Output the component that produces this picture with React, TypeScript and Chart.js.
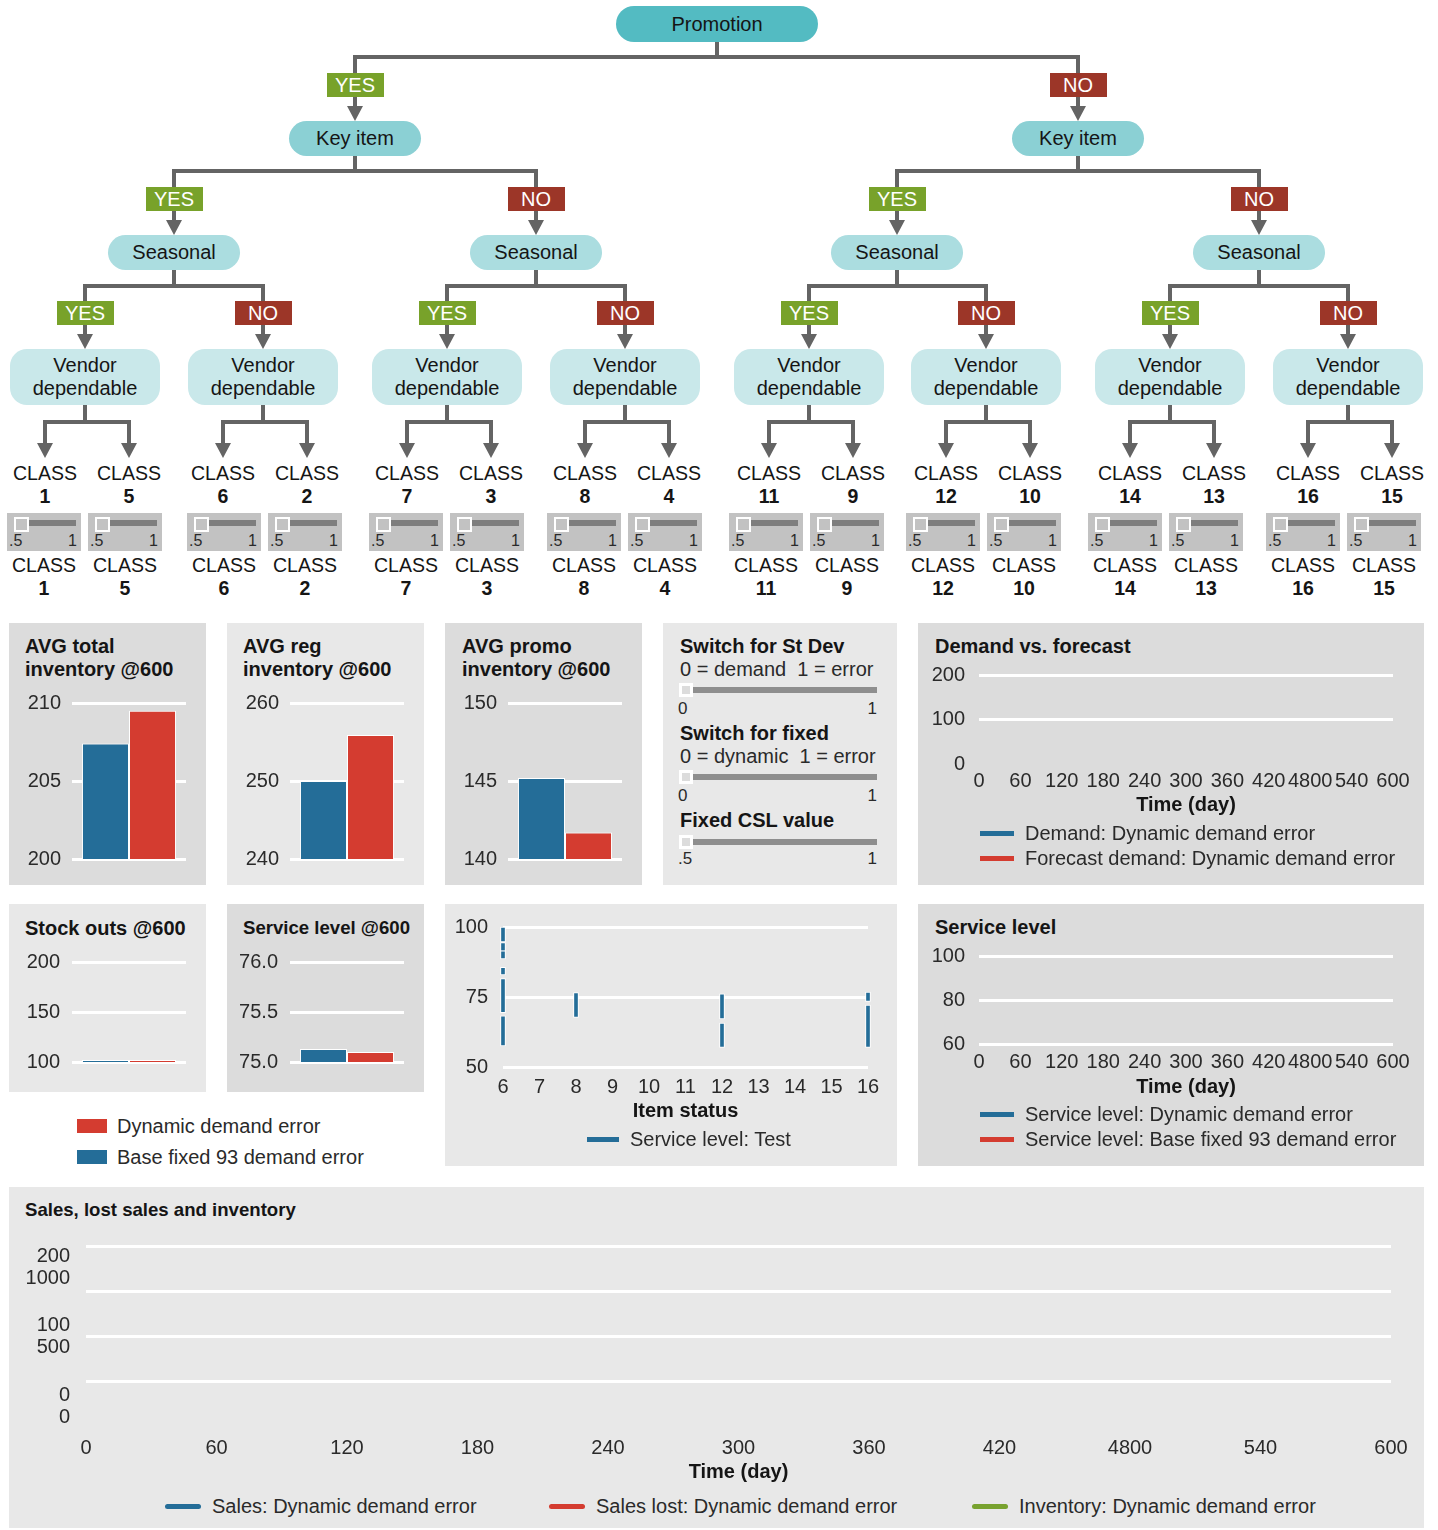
import React, { useEffect, useRef } from 'react';
import { Chart, registerables } from 'chart.js';

Chart.register(...registerables);

const SANS = '"Liberation Sans", Arial, Helvetica, sans-serif';
Chart.defaults.font.family = SANS;
Chart.defaults.font.size = 20;
Chart.defaults.color = '#2a2a2a';

const BLUE = '#246d98';
const RED = '#d43c30';
const GREEN = '#78a22f';
const INK = '#151515';
const SOFT_INK = '#2a2a2a';
const PANEL_DARK = '#dcdcdc';
const PANEL_LIGHT = '#e8e8e8';
const CONNECTOR = '#646464';

/* ---------- decision tree ---------- */
const promotionNode = ['Promotion'];
const keyItemNodes = ['Key item', 'Key item'];
const seasonalNodes = ['Seasonal', 'Seasonal', 'Seasonal', 'Seasonal'];
const vendorNodes = [
  'Vendor\ndependable', 'Vendor\ndependable', 'Vendor\ndependable', 'Vendor\ndependable',
  'Vendor\ndependable', 'Vendor\ndependable', 'Vendor\ndependable', 'Vendor\ndependable',
];
const branchTags = ['YES', 'NO'];
const leafClasses = [1, 5, 6, 2, 7, 3, 8, 4, 11, 9, 12, 10, 14, 13, 16, 15];
const classSliderValues = [0.5, 0.5, 0.5, 0.5, 0.5, 0.5, 0.5, 0.5, 0.5, 0.5, 0.5, 0.5, 0.5, 0.5, 0.5, 0.5];
const classSliderRange = [0.5, 1];

/* ---------- summary bars ---------- */
const barSeries = ['Base fixed 93 demand error', 'Dynamic demand error'];
const barSeriesColors = [BLUE, RED];
const avgTotalInventory = [207.4, 209.5];
const avgRegInventory = [250.0, 255.9];
const avgPromoInventory = [145.2, 141.7];
const stockOuts = [102, 102];
const serviceLevelAt600 = [75.13, 75.1];
const avgTotalTicks = [200, 205, 210];
const avgRegTicks = [240, 250, 260];
const avgPromoTicks = [140, 145, 150];
const stockOutTicks = [100, 150, 200];
const serviceLevelAt600Ticks = [75.0, 75.5, 76.0];

/* ---------- switches ---------- */
const stDevSwitch = { value: 0, range: ['0', '1'] };
const fixedSwitch = { value: 0, range: ['0', '1'] };
const fixedCslValue = { value: 0.5, range: ['.5', '1'] };

/* ---------- time series ---------- */
const timeTicks = [0, 60, 120, 180, 240, 300, 360, 420, 480, 540, 600];
const timeTickLabels = ['0', '60', '120', '180', '240', '300', '360', '420', '4800', '540', '600'];
const demandTicks = [0, 100, 200];
const demandSeries = ['Demand: Dynamic demand error', 'Forecast demand: Dynamic demand error'];
const demandValues: number[][] = [[], []];
const serviceLevelTicks = [60, 80, 100];
const serviceLevelSeries = ['Service level: Dynamic demand error', 'Service level: Base fixed 93 demand error'];
const serviceLevelValues: number[][] = [[], []];
const salesTicks = [0, 100, 200];
const inventoryTicks = [0, 500, 1000];
const salesGridTicks = [0, 1, 2, 3, 4];
const salesSeries = ['Sales: Dynamic demand error', 'Sales lost: Dynamic demand error', 'Inventory: Dynamic demand error'];
const salesColors = [BLUE, RED, GREEN];
const salesValues: number[][] = [[], [], []];

/* ---------- item status ---------- */
const itemStatusTicks = [6, 7, 8, 9, 10, 11, 12, 13, 14, 15, 16];
const itemStatusYTicks = [50, 75, 100];
const serviceLevelTestName = 'Service level: Test';
// [item status, low, high]
const serviceLevelTestRanges: [number, number, number][] = [
  [6, 94.7, 100], [6, 91.4, 94.4], [6, 88.6, 91.5], [6, 82.9, 85.6], [6, 69.4, 81.6], [6, 57.5, 68.3],
  [8, 67.7, 76.6],
  [12, 67.2, 76.1], [12, 57.0, 65.7],
  [16, 73.4, 76.8], [16, 57.0, 72.1],
];

/* ---------- layout ---------- */
const treeRows = [
  { names: promotionNode, centers: [717], top: 6, w: 202, h: 36, r: 18, bg: '#53bbc2' },
  { names: keyItemNodes, centers: [355, 1078], top: 121, w: 132, h: 35, r: 18, bg: '#8bd0d4' },
  { names: seasonalNodes, centers: [174, 536, 897, 1259], top: 235, w: 132, h: 35, r: 18, bg: '#abdde0' },
  { names: vendorNodes, centers: [85, 263, 447, 625, 809, 986, 1170, 1348], top: 349, w: 150, h: 56, r: 17, bg: '#c9e8ea' },
];
const connectorRows = [
  { barY: 57, base: 106, tagY: 85 },
  { barY: 171, base: 220, tagY: 199 },
  { barY: 286, base: 334, tagY: 313 },
  { barY: 422, base: 443, tagY: 0 },
];
const leafTip = 458;
const sliderLefts = [7, 88, 187, 268, 369, 450, 547, 628, 729, 810, 906, 987, 1088, 1169, 1266, 1347];

// canvas-relative plot box; xh is the height reserved for the x axis under the plot
type Geo = { w: number; h: number; left: number; right: number; top: number; bottom: number; xh: number };

function Label(props: {
  x: number; y: number; text: string; size?: number; bold?: boolean; color?: string;
  align?: 'left' | 'center' | 'right';
}) {
  const { x, y, text, size = 20, bold = false, color = INK, align = 'left' } = props;
  const lh = Math.round(size * 1.2);
  const shift = align === 'center' ? '-50%' : align === 'right' ? '-100%' : '0';
  return (
    <div
      style={{
        position: 'absolute', left: x, top: y - lh / 2, height: lh, lineHeight: `${lh}px`,
        fontSize: size, fontFamily: SANS, fontWeight: bold ? 700 : 400, color,
        whiteSpace: 'pre', transform: `translateX(${shift})`,
      }}
    >
      {text}
    </div>
  );
}

function ChartBox(props: { left: number; top: number; geo: Geo; build: (geo: Geo) => any }) {
  const ref = useRef<HTMLCanvasElement | null>(null);
  const { left, top, geo, build } = props;
  useEffect(() => {
    if (!ref.current) return undefined;
    const chart = new Chart(ref.current, build(geo));
    return () => chart.destroy();
  }, []);
  return (
    <canvas
      ref={ref}
      width={geo.w}
      height={geo.h}
      style={{ position: 'absolute', left, top, width: geo.w, height: geo.h }}
    />
  );
}

function Panel(props: { x: number; y: number; w: number; h: number; bg: string }) {
  return (
    <div style={{ position: 'absolute', left: props.x, top: props.y, width: props.w, height: props.h, background: props.bg }} />
  );
}

const baseOptions = (geo: Geo) => ({
  animation: false,
  responsive: false,
  devicePixelRatio: 1,
  events: [],
  layout: { padding: { left: 0, top: geo.top, right: geo.w - geo.right, bottom: geo.h - geo.bottom - geo.xh } },
  plugins: { legend: { display: false }, tooltip: { enabled: false } },
});

function valueAxis(ticks: number[], width: number, pad: number, digits = 0, hideFirstLine = false) {
  return {
    min: ticks[0],
    max: ticks[ticks.length - 1],
    afterBuildTicks: (s: any) => { s.ticks = ticks.map((value) => ({ value })); },
    afterFit: (s: any) => { s.width = width; },
    border: { display: false },
    grid: {
      drawTicks: false,
      lineWidth: 3,
      color: (ctx: any) => (hideFirstLine && ctx.tick && ctx.tick.value === ticks[0] ? 'rgba(0,0,0,0)' : '#ffffff'),
    },
    ticks: { padding: pad, color: SOFT_INK, callback: (v: any) => Number(v).toFixed(digits) },
  };
}

function barPanelConfig(values: number[], ticks: number[], digits: number, geo: Geo, pad: number) {
  return {
    type: 'bar',
    data: {
      labels: [''],
      datasets: barSeries.map((name, i) => ({
        label: name,
        data: [values[i]],
        backgroundColor: barSeriesColors[i],
        borderColor: '#ffffff',
        borderWidth: 1,
        categoryPercentage: 0.825,
        barPercentage: 1,
      })),
    },
    options: {
      ...baseOptions(geo),
      scales: {
        x: { display: false },
        y: valueAxis(ticks, geo.left, pad, digits),
      },
    },
  };
}

function timeAxis(height: number, pad: number) {
  return {
    type: 'linear',
    min: timeTicks[0],
    max: timeTicks[timeTicks.length - 1],
    afterBuildTicks: (s: any) => { s.ticks = timeTicks.map((value) => ({ value })); },
    afterFit: (s: any) => { s.height = height; },
    grid: { display: false, drawTicks: false },
    border: { display: false },
    ticks: {
      padding: pad, autoSkip: false, maxRotation: 0, minRotation: 0, color: SOFT_INK,
      callback: (_v: any, i: number) => timeTickLabels[i],
    },
    title: { display: true, text: 'Time (day)', color: INK, font: { size: 20, weight: 'bold' }, padding: { top: 0, bottom: 4 } },
  };
}

function timePanelConfig(names: string[], colors: string[], values: number[][], yTicks: number[], geo: Geo,
  yPad: number, xPad: number, hideFirstLine: boolean) {
  return {
    type: 'line',
    data: {
      datasets: names.map((name, i) => ({
        label: name,
        data: values[i],
        borderColor: colors[i],
        backgroundColor: colors[i],
        borderWidth: 2,
        pointRadius: 0,
      })),
    },
    options: {
      ...baseOptions(geo),
      scales: {
        x: timeAxis(geo.xh, xPad),
        y: valueAxis(yTicks, geo.left, yPad, 0, hideFirstLine),
      },
    },
  };
}

function itemStatusConfig(geo: Geo) {
  return {
    type: 'bar',
    data: {
      datasets: [{
        label: serviceLevelTestName,
        data: serviceLevelTestRanges.map(([x, lo, hi]) => ({ x, y: [lo, hi] })),
        backgroundColor: BLUE,
        borderColor: '#ffffff',
        borderWidth: 1,
        borderSkipped: false,
        barThickness: 5,
        clip: false,
      }],
    },
    options: {
      ...baseOptions(geo),
      scales: {
        x: {
          type: 'linear',
          offset: false,
          min: itemStatusTicks[0],
          max: itemStatusTicks[itemStatusTicks.length - 1],
          afterBuildTicks: (s: any) => { s.ticks = itemStatusTicks.map((value) => ({ value })); },
          afterFit: (s: any) => { s.height = geo.xh; },
          grid: { display: false, offset: false, drawTicks: false },
          border: { display: false },
          ticks: { padding: 8, autoSkip: false, maxRotation: 0, color: SOFT_INK },
          title: { display: true, text: 'Item status', color: INK, font: { size: 20, weight: 'bold' }, padding: { top: 0, bottom: 4 } },
        },
        y: valueAxis(itemStatusYTicks, geo.left, 15),
      },
    },
  };
}

function salesConfig(geo: Geo) {
  // sales (0-200) and inventory (0-1000) share one pixel mapping: their zero sits 21px above
  // the plot floor and the top tick 139px above that
  const plotH = geo.bottom - geo.top;
  const perUnit = 139 / salesTicks[salesTicks.length - 1];
  const salesMin = -21 / perUnit;
  const salesMax = salesMin + plotH / perUnit;
  const ratio = inventoryTicks[inventoryTicks.length - 1] / salesTicks[salesTicks.length - 1];
  return {
    type: 'line',
    data: {
      datasets: salesSeries.map((name, i) => ({
        label: name,
        data: salesValues[i],
        borderColor: salesColors[i],
        backgroundColor: salesColors[i],
        borderWidth: 2,
        pointRadius: 0,
        yAxisID: i === 2 ? 'yInventory' : 'ySales',
      })),
    },
    options: {
      ...baseOptions(geo),
      scales: {
        x: timeAxis(geo.xh, 9),
        ySales: {
          position: 'left',
          weight: 1,
          min: salesMin,
          max: salesMax,
          afterBuildTicks: (s: any) => { s.ticks = salesTicks.map((value) => ({ value })); },
          afterFit: (s: any) => { s.width = geo.left; },
          grid: { display: false, drawTicks: false },
          border: { display: false },
          ticks: {
            padding: 16,
            color: SOFT_INK,
            font: { size: 20, lineHeight: 1.1 },
            callback: (_v: any, i: number) => [String(salesTicks[i]), String(inventoryTicks[i])],
          },
        },
        yInventory: {
          position: 'left',
          display: false,
          min: salesMin * ratio,
          max: salesMax * ratio,
        },
        yGrid: {
          position: 'left',
          weight: 0,
          min: salesGridTicks[0],
          max: salesGridTicks[salesGridTicks.length - 1],
          afterBuildTicks: (s: any) => { s.ticks = salesGridTicks.map((value) => ({ value })); },
          afterFit: (s: any) => { s.width = 0; },
          border: { display: false },
          ticks: { display: false },
          grid: {
            drawTicks: false,
            lineWidth: 3,
            color: (ctx: any) => (ctx.tick && ctx.tick.value === 0 ? 'rgba(0,0,0,0)' : '#ffffff'),
          },
        },
      },
    },
  };
}

function DecisionTree() {
  const stems: string[] = [];
  const heads: string[] = [];
  const tags: any[] = [];
  const leafCenters = treeRows[3].centers.flatMap((c) => [c - 40, c + 44]);
  connectorRows.forEach((con, k) => {
    const parent = treeRows[k];
    const childCenters = k + 1 < treeRows.length ? treeRows[k + 1].centers : leafCenters;
    const tip = k + 1 < treeRows.length ? treeRows[k + 1].top : leafTip;
    const parentBottom = parent.top + parent.h;
    parent.centers.forEach((px, i) => {
      const lx = childCenters[2 * i];
      const rx = childCenters[2 * i + 1];
      stems.push(`M${px} ${parentBottom}V${con.barY}`);
      stems.push(`M${lx} ${con.base}V${con.barY}H${rx}V${con.base}`);
      [lx, rx].forEach((cx, j) => {
        heads.push(`${cx - 8},${con.base} ${cx + 8},${con.base} ${cx},${tip}`);
        if (con.tagY) {
          tags.push(
            <div
              key={`t${k}-${i}-${j}`}
              style={{
                position: 'absolute', left: cx - 28.5, top: con.tagY - 12, width: 57, height: 24,
                background: j === 0 ? '#78a22a' : '#9c3628', color: '#ffffff', fontFamily: SANS,
                fontSize: 20, lineHeight: '24px', textAlign: 'center',
              }}
            >
              {branchTags[j]}
            </div>,
          );
        }
      });
    });
  });

  return (
    <>
      <svg width={1438} height={470} style={{ position: 'absolute', left: 0, top: 0 }}>
        {stems.map((d, i) => (
          <path key={i} d={d} fill="none" stroke={CONNECTOR} strokeWidth={4} strokeLinejoin="miter" />
        ))}
        {heads.map((p, i) => (
          <polygon key={i} points={p} fill={CONNECTOR} />
        ))}
      </svg>
      {treeRows.map((row, k) =>
        row.centers.map((cx, i) => (
          <div
            key={`n${k}-${i}`}
            style={{
              position: 'absolute', left: cx - row.w / 2, top: row.top, width: row.w, height: row.h,
              borderRadius: row.r, background: row.bg, display: 'flex', flexDirection: 'column',
              alignItems: 'center', justifyContent: 'center', fontFamily: SANS, fontSize: 20,
              lineHeight: '23px', color: INK,
            }}
          >
            {row.names[i].split('\n').map((line) => <div key={line}>{line}</div>)}
          </div>
        )),
      )}
      {tags}
      {leafCenters.map((cx, i) => (
        <React.Fragment key={`c${i}`}>
          <Label x={cx} y={473} text="CLASS" size={19.5} align="center" />
          <Label x={cx} y={496} text={String(leafClasses[i])} size={19.5} bold align="center" />
        </React.Fragment>
      ))}
      {sliderLefts.map((x, i) => {
        const span = classSliderRange[1] - classSliderRange[0];
        const handle = 7 + ((classSliderValues[i] - classSliderRange[0]) / span) * 48;
        return (
          <React.Fragment key={`s${i}`}>
            <div style={{ position: 'absolute', left: x, top: 513, width: 74, height: 38, background: '#c2c2c2' }}>
              <div style={{ position: 'absolute', left: 21, top: 7, width: 48, height: 6, background: '#7e7e7e' }} />
              <div
                style={{
                  position: 'absolute', left: handle, top: 4, width: 15, height: 15, boxSizing: 'border-box',
                  border: '2px solid #ffffff', background: '#c2c2c2',
                }}
              />
              <Label x={2} y={27} text=".5" size={16} color={SOFT_INK} />
              <Label x={70} y={27} text="1" size={16} color={SOFT_INK} align="right" />
            </div>
            <Label x={x + 37} y={565} text="CLASS" size={19.5} align="center" />
            <Label x={x + 37} y={588} text={String(leafClasses[i])} size={19.5} bold align="center" />
          </React.Fragment>
        );
      })}
    </>
  );
}

function SwitchSlider(props: { trackY: number; labelY: number; value: number; min: number; max: number; range: string[] }) {
  const { trackY, labelY, value, min, max, range } = props;
  const left = 679 + ((value - min) / (max - min)) * 184;
  return (
    <>
      <div style={{ position: 'absolute', left: 688, top: trackY - 3, width: 189, height: 6, background: '#8e8e8e' }} />
      <div
        style={{
          position: 'absolute', left, top: trackY - 7, width: 14, height: 14, boxSizing: 'border-box',
          border: '3px solid #ffffff', background: '#dcdcdc',
        }}
      />
      <Label x={678} y={labelY} text={range[0]} size={17} color={SOFT_INK} />
      <Label x={877} y={labelY} text={range[1]} size={17} color={SOFT_INK} align="right" />
    </>
  );
}

function LineKey(props: { x: number; y: number; w: number; color: string; text: string; round?: boolean }) {
  const { x, y, w, color, text, round } = props;
  return (
    <>
      <div style={{ position: 'absolute', left: x, top: y - 2.5, width: w, height: 5, background: color, borderRadius: round ? 3 : 0 }} />
      <Label x={x + w + 11} y={y} text={text} color={SOFT_INK} />
    </>
  );
}

export default function App() {
  // plot boxes measured from the canvas origin
  const barGeo: Geo = { w: 197, h: 216, left: 63, right: 177, top: 30, bottom: 186, xh: 0 };
  const smallGeo: Geo = { w: 197, h: 160, left: 63, right: 177, top: 30, bottom: 130, xh: 0 };
  const demandGeo: Geo = { w: 506, h: 181, left: 61, right: 475, top: 30, bottom: 119, xh: 57 };
  const serviceGeo: Geo = { w: 506, h: 182, left: 61, right: 475, top: 30, bottom: 118, xh: 59 };
  const itemGeo: Geo = { w: 452, h: 235, left: 58, right: 423, top: 30, bottom: 170, xh: 60 };
  const salesGeo: Geo = { w: 1415, h: 292, left: 77, right: 1382, top: 45, bottom: 226, xh: 61 };
  return (
    <div
      style={{
        position: 'absolute', left: 0, top: 0, width: 1438, height: 1530, background: '#ffffff',
        overflow: 'hidden', fontFamily: SANS,
      }}
    >
      <DecisionTree />

      {/* first dashboard row */}
      <Panel x={9} y={623} w={197} h={262} bg={PANEL_DARK} />
      <Panel x={227} y={623} w={197} h={262} bg={PANEL_LIGHT} />
      <Panel x={445} y={623} w={197} h={262} bg={PANEL_DARK} />
      <Panel x={663} y={623} w={234} h={262} bg={PANEL_LIGHT} />
      <Panel x={918} y={623} w={506} h={262} bg={PANEL_DARK} />

      <Label x={25} y={646} text="AVG total" bold />
      <Label x={25} y={669} text="inventory @600" bold />
      <Label x={243} y={646} text="AVG reg" bold />
      <Label x={243} y={669} text="inventory @600" bold />
      <Label x={462} y={646} text="AVG promo" bold />
      <Label x={462} y={669} text="inventory @600" bold />

      <ChartBox left={9} top={673} geo={barGeo}
        build={(g) => barPanelConfig(avgTotalInventory, avgTotalTicks, 0, g, 11)} />
      <ChartBox left={227} top={673} geo={barGeo}
        build={(g) => barPanelConfig(avgRegInventory, avgRegTicks, 0, g, 11)} />
      <ChartBox left={445} top={673} geo={barGeo}
        build={(g) => barPanelConfig(avgPromoInventory, avgPromoTicks, 0, g, 11)} />

      <Label x={680} y={646} text="Switch for St Dev" bold />
      <Label x={680} y={669} text="0 = demand  1 = error" color={SOFT_INK} />
      <SwitchSlider trackY={690} labelY={709} value={stDevSwitch.value} min={0} max={1} range={stDevSwitch.range} />
      <Label x={680} y={733} text="Switch for fixed" bold />
      <Label x={680} y={756} text="0 = dynamic  1 = error" color={SOFT_INK} />
      <SwitchSlider trackY={777} labelY={796} value={fixedSwitch.value} min={0} max={1} range={fixedSwitch.range} />
      <Label x={680} y={820} text="Fixed CSL value" bold />
      <SwitchSlider trackY={842} labelY={859} value={fixedCslValue.value} min={0.5} max={1} range={fixedCslValue.range} />

      <Label x={935} y={646} text="Demand vs. forecast" bold />
      <ChartBox left={918} top={645} geo={demandGeo}
        build={(g) => timePanelConfig(demandSeries, [BLUE, RED], demandValues, demandTicks, g, 14, 5, true)} />
      <LineKey x={980} y={833} w={34} color={BLUE} text={demandSeries[0]} />
      <LineKey x={980} y={858} w={34} color={RED} text={demandSeries[1]} />

      {/* second dashboard row */}
      <Panel x={9} y={904} w={197} h={188} bg={PANEL_LIGHT} />
      <Panel x={227} y={904} w={197} h={188} bg={PANEL_DARK} />
      <Panel x={445} y={904} w={452} h={262} bg={PANEL_LIGHT} />
      <Panel x={918} y={904} w={506} h={262} bg={PANEL_DARK} />

      <Label x={25} y={928} text="Stock outs @600" bold />
      <Label x={243} y={928} text="Service level @600" bold size={18.6} />
      <ChartBox left={9} top={932} geo={smallGeo}
        build={(g) => barPanelConfig(stockOuts, stockOutTicks, 0, g, 12)} />
      <ChartBox left={227} top={932} geo={smallGeo}
        build={(g) => barPanelConfig(serviceLevelAt600, serviceLevelAt600Ticks, 1, g, 12)} />

      <div style={{ position: 'absolute', left: 77, top: 1119, width: 30, height: 14, background: RED }} />
      <Label x={117} y={1126} text={barSeries[1]} color={SOFT_INK} />
      <div style={{ position: 'absolute', left: 77, top: 1150, width: 30, height: 14, background: BLUE }} />
      <Label x={117} y={1157} text={barSeries[0]} color={SOFT_INK} />

      <ChartBox left={445} top={897} geo={itemGeo} build={itemStatusConfig} />
      <LineKey x={587} y={1139} w={32} color={BLUE} text={serviceLevelTestName} />

      <Label x={935} y={927} text="Service level" bold />
      <ChartBox left={918} top={926} geo={serviceGeo}
        build={(g) => timePanelConfig(serviceLevelSeries, [BLUE, RED], serviceLevelValues, serviceLevelTicks, g, 14, 6, false)} />
      <LineKey x={980} y={1114} w={34} color={BLUE} text={serviceLevelSeries[0]} />
      <LineKey x={980} y={1139} w={34} color={RED} text={serviceLevelSeries[1]} />

      {/* sales, lost sales and inventory */}
      <Panel x={9} y={1187} w={1415} h={341} bg={PANEL_LIGHT} />
      <Label x={25} y={1210} text="Sales, lost sales and inventory" bold size={18.6} />
      <ChartBox left={9} top={1201} geo={salesGeo} build={salesConfig} />
      <LineKey x={165} y={1506} w={36} color={salesColors[0]} text={salesSeries[0]} round />
      <LineKey x={549} y={1506} w={36} color={salesColors[1]} text={salesSeries[1]} round />
      <LineKey x={972} y={1506} w={36} color={salesColors[2]} text={salesSeries[2]} round />
    </div>
  );
}
